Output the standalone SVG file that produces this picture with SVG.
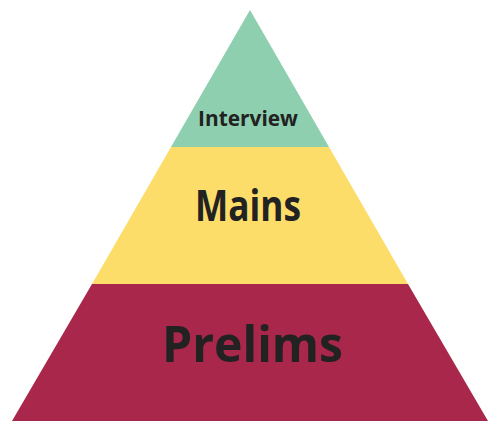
<svg xmlns="http://www.w3.org/2000/svg" width="500" height="430" viewBox="0 0 500 430">
<style>
text{font-family:"Open Sans","Liberation Sans",sans-serif;font-weight:bold;fill:#222;text-anchor:middle}
</style>
<rect width="500" height="430" fill="#fff"/>
<g id="prelims"><polygon points="92,284 408,284 488,421 12,421" fill="#a8274a"/><text x="252.5" y="362" font-size="51" textLength="181" lengthAdjust="spacingAndGlyphs">Prelims</text></g>
<g id="mains"><polygon points="171,147 329,147 408,284 92,284" fill="#fcdd6a"/><text x="248" y="221" font-size="43" textLength="106" lengthAdjust="spacingAndGlyphs">Mains</text></g>
<g id="interview"><polygon points="250,10 329,147 171,147" fill="#8ecfb0"/><text x="248" y="126" font-size="21" textLength="100" lengthAdjust="spacingAndGlyphs">Interview</text></g>
</svg>
